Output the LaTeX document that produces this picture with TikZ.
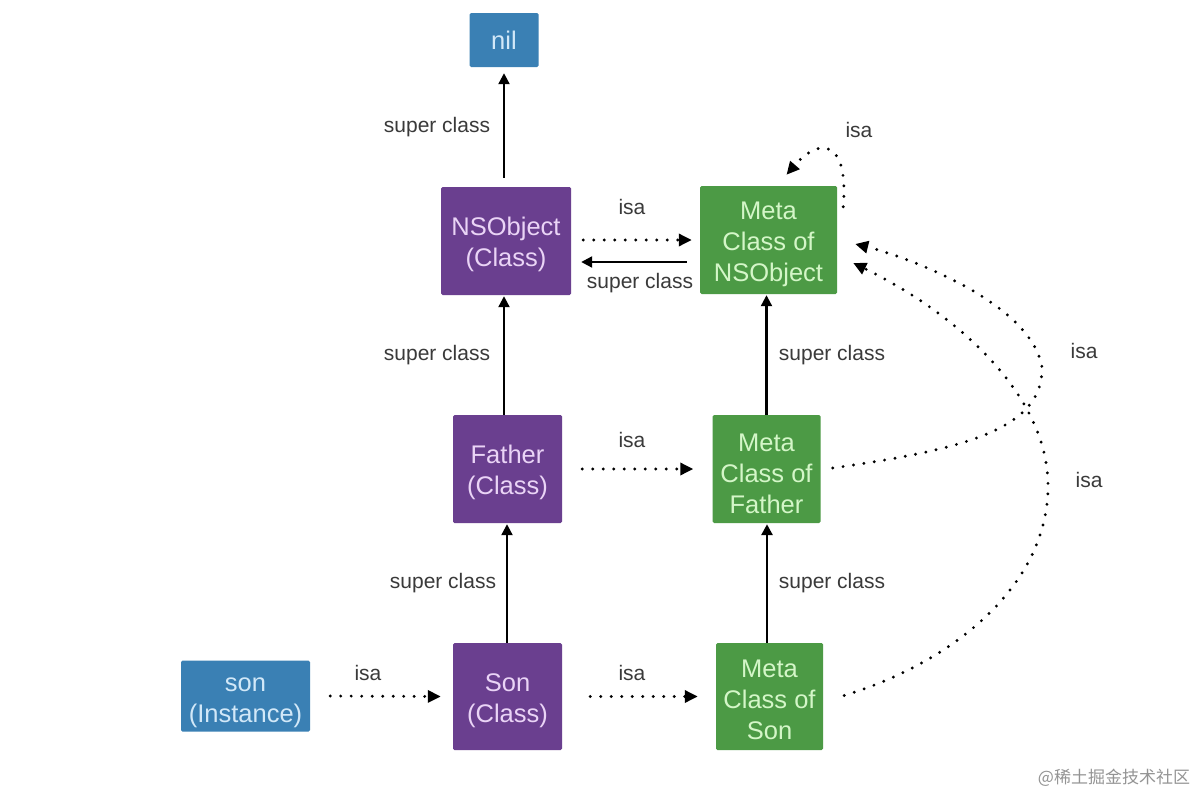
\documentclass[tikz,border=0pt]{standalone}
\usepackage{fontspec}
\setmainfont{Liberation Sans}
\newfontfamily\cjkfont{Noto Sans CJK SC}
\usetikzlibrary{arrows.meta}
\definecolor{boxblue}{HTML}{3A80B4}
\definecolor{boxpurple}{HTML}{6A3F8F}
\definecolor{boxgreen}{HTML}{4C9A45}
\definecolor{txtblue}{HTML}{D2E8F8}
\definecolor{txtpurple}{HTML}{EAD4F6}
\definecolor{txtgreen}{HTML}{D4F6C8}
\definecolor{lbl}{HTML}{3A3A3A}
\newcommand\tdn[1]{\rule{0pt}{#1pt}}
\begin{document}
\begin{tikzpicture}[x=1pt,y=-1pt,
  box/.style={inner sep=0pt, rounded corners=1.5pt, align=center,
    font=\fontsize{25.5}{31}\selectfont},
  bluebox/.style={box, fill=boxblue, text=txtblue},
  purplebox/.style={box, fill=boxpurple, text=txtpurple},
  greenbox/.style={box, fill=boxgreen, text=txtgreen},
  lab/.style={font=\fontsize{21}{24}\selectfont, text=lbl, inner sep=0pt},
  solidarrow/.style={line width=2.2pt, -{Triangle[length=11pt,width=11pt]}},
  dotarrow/.style={line width=3.2pt, line cap=round, dash pattern=on 0pt off 10.5pt,
    -{Triangle[length=13pt,width=12pt]}},
]
\useasboundingbox (0,0) rectangle (1200,798);
\fill[white] (0,0) rectangle (1200,798);

% nodes
\node[bluebox, minimum width=69pt, minimum height=54pt] (nil) at (504,40) {nil};
\node[purplebox, minimum width=130pt, minimum height=108pt] (nso) at (506,241) {\tdn{25}NSObject\\(Class)};
\node[greenbox, minimum width=137pt, minimum height=108pt] (mno) at (768.5,240) {\tdn{26.5}Meta\\Class of\\NSObject};
\node[purplebox, minimum width=109pt, minimum height=108pt] (fat) at (507.5,469) {\tdn{25}Father\\(Class)};
\node[greenbox, minimum width=108pt, minimum height=108pt] (mfa) at (766.5,469) {\tdn{26.5}Meta\\Class of\\Father};
\node[bluebox, minimum width=129pt, minimum height=71pt] (ins) at (245.5,696) {\tdn{27.5}son\\(Instance)};
\node[purplebox, minimum width=109pt, minimum height=107pt] (son) at (507.5,696.5) {\tdn{27}Son\\(Class)};
\node[greenbox, minimum width=107pt, minimum height=107pt] (mso) at (769.5,696.5) {\tdn{25}Meta\\Class of\\Son};

% superclass arrows
\draw[solidarrow] ([xshift=-2pt,yshift=9pt]nso.north) -- ([yshift=-6pt]nil.south);
\draw[solidarrow] ([xshift=-3.5pt]fat.north) -- ([xshift=-2pt,yshift=-1pt]nso.south);
\draw[solidarrow] ([xshift=-0.5pt]son.north) -- ([xshift=-0.5pt,yshift=-1pt]fat.south);
\draw[solidarrow] (mfa.north) -- ([xshift=-2pt,yshift=-1pt]mno.south);
\draw[solidarrow, line width=2.8pt] ([xshift=-2.5pt]mso.north) -- ([xshift=0.5pt,yshift=-1pt]mfa.south);
\draw[solidarrow] ([xshift=-13pt,yshift=-22pt]mno.west) -- ([xshift=10pt,yshift=-21pt]nso.east);

% isa arrows
\draw[dotarrow] ([xshift=12pt,yshift=1pt]nso.east) -- ([xshift=-8pt]mno.west);
\draw[dotarrow] ([xshift=20pt]fat.east) -- ([xshift=-19pt]mfa.west);
\draw[dotarrow] ([xshift=20pt]ins.east) -- ([xshift=-12pt]son.west);
\draw[dotarrow] ([xshift=28pt]son.east) -- ([xshift=-18pt]mso.west);

% self loop
\coordinate (loopS) at ([xshift=6pt,yshift=-21pt]mno.north east);
\coordinate (loopE) at ([xshift=18pt,yshift=11pt]mno.north);
\draw[dotarrow] (loopS) .. controls (849,140) and (820,136) .. (loopE);

% long isa curves
\coordinate (fS) at ([xshift=12pt,yshift=1pt]mfa.east);
\coordinate (fE) at ([xshift=18pt,yshift=-4pt]mno.east);
\draw[dotarrow] (fS) .. controls (960,450) and (1044,430) .. (1042,367)
  .. controls (1030,300) and (900,255) .. (fE);
\coordinate (sS) at ([xshift=21pt,yshift=1pt]mso.east);
\coordinate (sE) at ([xshift=16pt,yshift=-23pt]mno.east);
\draw[dotarrow] (sS) .. controls (960,660) and (1050,580) .. (1048,483)
  .. controls (1046,390) and (950,310) .. (sE);

% labels
\node[lab] (l1) at (437,127) {super class};
\node[lab] (l2) at (437,355) {super class};
\node[lab] (l3) at (443,583) {super class};
\node[lab] (l4) at (832,355) {super class};
\node[lab] (l5) at (832,583) {super class};
\node[lab] (l6) at (640,283) {super class};
\node[lab] (i1) at (632,207) {isa};
\node[lab] (i2) at (632,440) {isa};
\node[lab] (i3) at (368,673) {isa};
\node[lab] (i4) at (632,673) {isa};
\node[lab] (i5) at (859,130) {isa};
\node[lab] (i6) at (1084,351) {isa};
\node[lab] (i7) at (1089,480) {isa};

% watermark
\node[font=\cjkfont\fontsize{17}{20}\selectfont, text=black!42, inner sep=0pt] (wm) at (1114,778) {@稀土掘金技术社区};
\end{tikzpicture}
\end{document}
